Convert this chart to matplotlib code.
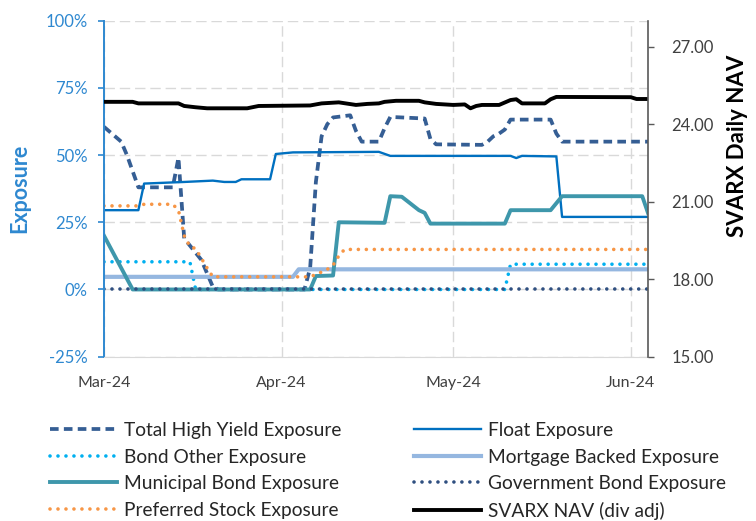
import matplotlib
matplotlib.use("Agg")
import matplotlib.pyplot as plt
import matplotlib.dates as mdates
from matplotlib.ticker import FixedLocator, FuncFormatter
import pandas as pd

plt.rcParams['font.family'] = ['Lato', 'DejaVu Sans']

# ---------------- data ----------------
# exposures in %, NAV in $ ; dates are 2024 (MM-DD)
thy_dates = ['03-01', '03-04', '03-05', '03-06', '03-07', '03-13', '03-14', '03-15', '03-18',
             '03-19', '03-20', '03-21', '04-05', '04-06', '04-07', '04-08', '04-09', '04-10',
             '04-13', '04-14', '04-15', '04-18', '04-19', '04-20', '04-26', '04-27', '04-28',
             '05-06', '05-07', '05-08', '05-09', '05-10', '05-11', '05-18', '05-19', '05-20',
             '06-04']
thy_vals = [60.5, 55, 50, 44, 38, 38, 49, 19, 11,
            6, 1, 0, 0, 8, 40, 57, 61.5, 64,
            64.8, 59, 55, 55, 60, 64.2, 63.6, 56, 54,
            53.8, 55, 57, 58, 59.5, 63.2, 63.2, 58, 55,
            55]

float_dates = ['03-01', '03-07', '03-08', '03-15', '03-20', '03-22', '03-24', '03-25', '03-30',
               '03-31', '04-03', '04-18', '04-20', '05-11', '05-12', '05-13', '05-19', '05-20',
               '06-04']
float_vals = [29.5, 29.5, 39.4, 40, 40.5, 40, 40, 41, 41,
              50.4, 51, 51.2, 49.7, 49.7, 48.9, 49.7, 49.5, 27,
              27]

bond_other_dates = ['03-01', '03-16', '03-17', '05-10', '05-11', '06-04']
bond_other_vals = [10.3, 10.3, 0, 0, 9.4, 9.4]

mortgage_dates = ['03-01', '04-03', '04-04', '06-04']
mortgage_vals = [4.7, 4.7, 7.5, 7.5]

muni_dates = ['03-01', '03-06', '04-06', '04-07', '04-10', '04-11', '04-19', '04-20', '04-22',
              '04-25', '04-26', '04-27', '05-10', '05-11', '05-18', '05-20', '06-03', '06-04']
muni_vals = [20, 0, 0, 5, 5.2, 25, 24.8, 34.7, 34.5,
             29.5, 28.5, 24.5, 24.5, 29.5, 29.5, 34.7, 34.7, 28.5]

gov_dates = ['03-01', '06-04']
gov_vals = [0, 0]

pref_dates = ['03-01', '03-07', '03-08', '03-13', '03-14', '03-15', '03-16', '03-17', '03-19',
              '03-20', '04-06', '04-08', '04-09', '04-10', '04-11', '04-12', '06-04']
pref_vals = [31.1, 31.1, 31.7, 31.7, 29.5, 20, 16, 15.2, 8,
             4.7, 4.7, 6.5, 7.5, 9, 12.5, 14.9, 14.9]

nav_dates = ['03-01', '03-06', '03-07', '03-14', '03-15', '03-17', '03-19', '03-26', '03-28',
             '04-06', '04-08', '04-11', '04-14', '04-16', '04-18', '04-19', '04-21', '04-25',
             '04-26', '04-28', '05-01', '05-03', '05-04', '05-05', '05-06', '05-09', '05-11',
             '05-12', '05-13', '05-17', '05-18', '05-19', '06-01', '06-02', '06-04']
nav_vals = [24.86, 24.86, 24.80, 24.80, 24.70, 24.65, 24.61, 24.61, 24.70,
            24.72, 24.80, 24.84, 24.74, 24.78, 24.80, 24.86, 24.90, 24.90,
            24.84, 24.78, 24.74, 24.76, 24.61, 24.70, 24.74, 24.74, 24.93,
            24.96, 24.80, 24.80, 24.96, 25.05, 25.04, 24.97, 24.97]

month_ticks = ['03-01', '04-01', '05-01', '06-01']


def d(lst):
    return pd.to_datetime(['2024-' + s for s in lst])


BLUE_AX = '#2E88D0'
DOT = (0, (0.01, 2.2))

fig = plt.figure(figsize=(7.56, 5.21), dpi=100)
ax = fig.add_axes([0.1376, 0.3154, 0.7195, 0.6449])
ax2 = ax.twinx()

h_thy, = ax.plot(d(thy_dates), thy_vals, color='#355E94', lw=2.7, linestyle=(0, (2.3, 1.4)),
                 label='Total High Yield Exposure')
h_float, = ax.plot(d(float_dates), float_vals, color='#0070C0', lw=1.7, label='Float Exposure')
h_bo, = ax.plot(d(bond_other_dates), bond_other_vals, color='#00B0F0', lw=2.6,
                linestyle=DOT, dash_capstyle='round', label='Bond Other Exposure')
h_mbs, = ax.plot(d(mortgage_dates), mortgage_vals, color='#95B7E0', lw=3.0,
                 label='Mortgage Backed Exposure')
h_muni, = ax.plot(d(muni_dates), muni_vals, color='#3E97AB', lw=2.8, label='Municipal Bond Exposure')
h_gov, = ax.plot(d(gov_dates), gov_vals, color='#2F4F80', lw=2.6, linestyle=DOT,
                 dash_capstyle='round', label='Government Bond Exposure')
h_pref, = ax.plot(d(pref_dates), pref_vals, color='#F79646', lw=2.6, linestyle=DOT,
                  dash_capstyle='round', label='Preferred Stock Exposure')
h_nav, = ax2.plot(d(nav_dates), nav_vals, color='black', lw=2.8, label='SVARX NAV (div adj)')

# axes ranges
ax.set_xlim(pd.Timestamp('2024-03-01'), pd.Timestamp('2024-06-04'))
ax.set_ylim(-25, 100)
ax2.set_ylim(15, 28)

ax.set_yticks([-25, 0, 25, 50, 75, 100])
ax.yaxis.set_major_formatter(FuncFormatter(lambda v, p: f'{v:.0f}%'))
ax.set_xticks(d(month_ticks))
ax.xaxis.set_major_formatter(mdates.DateFormatter('%b-%y'))
ax2.yaxis.set_major_locator(FixedLocator([15, 18, 21, 24, 27]))
ax2.yaxis.set_major_formatter(FuncFormatter(lambda v, p: f'{v:.2f}'))

ax.grid(True, color='#D9D9D9', lw=1.0, linestyle=(0, (7.5, 3.5)))
ax.set_axisbelow(True)

ax.tick_params(axis='y', colors=BLUE_AX, labelsize=12, length=4, width=1.2, pad=8)
ax.tick_params(axis='x', colors='#404040', labelsize=11.5, length=0, pad=14)
ax2.tick_params(axis='y', colors='#595959', labelcolor='#404040', labelsize=12, length=4,
                width=1.0, pad=13)

for s in ['top']:
    ax.spines[s].set_visible(False)
    ax2.spines[s].set_visible(False)
ax.spines['left'].set_color(BLUE_AX)
ax.spines['left'].set_linewidth(1.4)
ax.spines['bottom'].set_color('#D9D9D9')
ax2.spines['left'].set_visible(False)
ax2.spines['bottom'].set_visible(False)
ax2.spines['right'].set_color('#595959')
ax2.spines['right'].set_linewidth(1.2)
ax.spines['right'].set_visible(False)

fig.text(20 / 756, 1 - 188 / 521, 'Exposure', rotation=90, ha='center', va='center',
         color=BLUE_AX, fontsize=15.5, fontweight='bold')
fig.text(737 / 756, 1 - 146 / 521, 'SVARX Daily NAV', rotation=90, ha='center', va='center',
         color='black', fontsize=16, fontweight='bold')

# legend is row-major in the original -> reorder into columns
handles = [h_thy, h_bo, h_muni, h_pref, h_float, h_mbs, h_gov, h_nav]
fig.legend(handles=handles, labels=[h.get_label() for h in handles], ncol=2,
           loc='upper left', bbox_to_anchor=(50 / 756, 1 - 422 / 521), frameon=False,
           fontsize=13.8, handlelength=3.5, handletextpad=0.35, columnspacing=3.8,
           labelspacing=0.5, labelcolor='#262626', borderaxespad=0, borderpad=0)

fig.savefig('out.png', dpi=100)
